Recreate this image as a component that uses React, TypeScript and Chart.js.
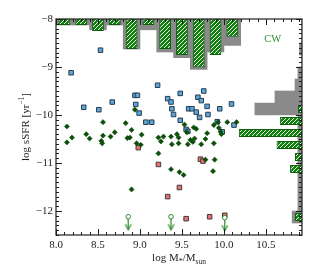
import React, { useEffect, useRef } from 'react';
import { Chart, registerables } from 'chart.js';

Chart.register(...registerables);

// ---------- axis ticks ----------
const xMajorTicks = [8.0, 8.5, 9.0, 9.5, 10.0, 10.5];
const yMajorTicks = [-12, -11, -10, -9, -8];
const xRange = [8.0, 10.93];
const yRange = [-12.5, -8.0];

// ---------- CW galaxies (dark green diamonds) ----------
const cwMass = [8.13, 8.13, 8.19, 8.36, 8.40, 8.54, 8.55, 8.56, 8.56, 8.65, 8.70, 8.83, 8.85, 8.88, 8.90, 8.94, 8.96, 9.01, 9.02, 8.90, 9.22, 9.22, 9.25, 9.28, 9.37, 9.38, 9.44, 9.46, 9.46, 9.53, 9.56, 9.57, 9.60, 9.63, 9.65, 9.64, 9.67, 9.73, 9.78, 9.80, 9.88, 9.88, 9.93, 9.94, 9.96, 9.97, 10.04, 10.15, 9.37, 9.47, 9.52, 9.78, 9.89, 9.87];
const cwSSFR = [-10.24, -10.57, -10.47, -10.40, -10.49, -10.54, -10.59, -10.15, -10.43, -10.45, -10.36, -10.17, -10.48, -10.47, -10.31, -9.89, -10.59, -10.62, -10.41, -11.55, -10.47, -10.80, -10.55, -10.45, -10.45, -10.61, -10.40, -10.47, -10.59, -10.20, -10.36, -10.61, -10.52, -10.56, -10.49, -10.26, -10.29, -10.61, -10.50, -10.38, -10.21, -10.59, -10.15, -10.27, -10.35, -10.40, -10.15, -10.15, -11.13, -11.19, -11.25, -10.93, -10.93, -11.17];

// ---------- blue squares ----------
const blueMass = [8.53, 8.18, 8.33, 8.51, 8.67, 8.94, 8.97, 8.95, 8.99, 9.07, 9.14, 9.21, 9.33, 9.37, 9.48, 9.38, 9.40, 9.69, 9.73, 9.76, 9.58, 9.62, 9.67, 9.71, 9.80, 9.81, 9.95, 10.09, 9.48, 9.55, 9.57, 9.92, 9.98, 10.12];
const blueSSFR = [-8.65, -9.12, -9.84, -9.89, -9.73, -9.59, -9.59, -9.78, -9.96, -10.15, -10.15, -9.38, -9.66, -9.73, -9.55, -9.87, -9.99, -9.63, -9.70, -9.50, -9.87, -9.87, -9.94, -10.05, -9.82, -9.99, -9.87, -9.77, -10.11, -10.30, -10.34, -10.14, -10.35, -10.21];

// ---------- red squares ----------
const redMass = [8.98, 9.22, 9.72, 9.75, 9.47, 9.33, 9.55, 9.83, 10.01];
const redSSFR = [-10.68, -11.03, -10.92, -10.96, -11.51, -11.70, -12.16, -12.12, -12.09];

// ---------- upper limits ----------
const limitMass = [8.86, 9.37, 10.01];
const limitSSFR = [-12.12, -12.12, -12.14];
const limitTip = [-12.39, -12.39, -12.41];

// ---------- top histogram (stellar mass), bins of 0.2 dex ----------
const topBinCenters = [8.1, 8.3, 8.5, 8.7, 8.9, 9.1, 9.3, 9.5, 9.7, 9.9, 10.1];
const topGray = [1, 1, 1.8, 1, 5, 1.8, 5.5, 6.45, 8.4, 5.5, 4.4];
const topGreen = [1, 1, 2, 1, 5, 1, 5, 6, 8.1, 6, 2.95];

// ---------- right histogram (sSFR), bins of 0.25 dex ----------
const rightBinCenters = [-8.125, -8.375, -8.625, -8.875, -9.125, -9.375, -9.625, -9.875, -10.125, -10.375, -10.625, -10.875, -11.125, -11.375, -11.625, -11.875, -12.125, -12.375];
const rightGray = [0, 0, 0.6, 0, 1, 1.7, 6.6, 11.5, 1, 1, 1, 1, 1, 1, 1, 1, 2.4, 0];
const rightGreen = [0, 0, 0, 0, 0, 0, 0, 1, 5.4, 15.4, 6.2, 1.7, 2.9, 0, 0, 0, 1.7, 0];

const cwLabel = 'CW';
const cwLabelPos = [10.58, -8.47];

const SERIF = "'Liberation Serif', 'Times New Roman', Times, serif";
const INK = '#1e1e1e';
const LIMIT_GREEN = '#2b8b2b';

function makeHatch(): CanvasPattern | string {
  const c = document.createElement('canvas');
  const p = 4;
  c.width = p;
  c.height = p;
  const g = c.getContext('2d');
  if (!g) return '#1f8a1f';
  g.fillStyle = '#11800f';
  g.fillRect(0, 0, p, p);
  g.strokeStyle = '#f4fff4';
  g.lineWidth = 0.95;
  g.beginPath();
  g.moveTo(0, p); g.lineTo(p, 0);
  g.moveTo(-1, 1); g.lineTo(1, -1);
  g.moveTo(p - 1, p + 1); g.lineTo(p + 1, p - 1);
  g.stroke();
  return g.createPattern(c, 'repeat') || '#1f8a1f';
}

function makeArrowHead(): HTMLCanvasElement {
  const c = document.createElement('canvas');
  c.width = 9;
  c.height = 13;
  const g = c.getContext('2d');
  if (g) {
    g.strokeStyle = LIMIT_GREEN;
    g.lineWidth = 1.2;
    g.beginPath();
    g.moveTo(1.6, 1.0);
    g.lineTo(4.5, 6.5);
    g.lineTo(7.4, 1.0);
    g.stroke();
  }
  return c;
}

type Seg = [string, number, number];
function segWidth(ctx: CanvasRenderingContext2D, segs: Seg[]) {
  let w = 0;
  for (const [t, s] of segs) {
    ctx.font = `${s}px ${SERIF}`;
    w += ctx.measureText(t).width;
  }
  return w;
}
function drawSegs(ctx: CanvasRenderingContext2D, segs: Seg[], x0: number, y0: number) {
  let x = x0;
  for (const [t, s, dy] of segs) {
    ctx.font = `${s}px ${SERIF}`;
    ctx.fillText(t, x, y0 + dy);
    x += ctx.measureText(t).width;
  }
}

const decorPlugin = {
  id: 'decor',
  afterDraw(chart: any) {
    const { ctx, chartArea: a, scales } = chart;
    const xs = scales.x;
    const ys = scales.y;
    ctx.save();
    ctx.strokeStyle = INK;
    ctx.lineWidth = 1;
    ctx.beginPath();
    for (let k = 0; ; k++) {
      const v = xRange[0] + k * 0.1;
      if (v > xRange[1] + 1e-9) break;
      const major = xMajorTicks.some((t) => Math.abs(t - v) < 1e-6);
      const len = major ? 6 : 3;
      const p = Math.round(xs.getPixelForValue(v)) + 0.5;
      ctx.moveTo(p, a.bottom); ctx.lineTo(p, a.bottom - len);
      ctx.moveTo(p, a.top); ctx.lineTo(p, a.top + len);
    }
    for (let k = 0; ; k++) {
      const v = yRange[0] + k * 0.1;
      if (v > yRange[1] + 1e-9) break;
      const major = yMajorTicks.some((t) => Math.abs(t - v) < 1e-6);
      const len = major ? 6 : 3;
      const p = Math.round(ys.getPixelForValue(v)) + 0.5;
      ctx.moveTo(a.left, p); ctx.lineTo(a.left + len, p);
      ctx.moveTo(a.right, p); ctx.lineTo(a.right - len, p);
    }
    ctx.stroke();
    ctx.lineWidth = 1.2;
    ctx.strokeRect(a.left, a.top, a.right - a.left, a.bottom - a.top);

    ctx.fillStyle = INK;
    ctx.textBaseline = 'alphabetic';
    ctx.textAlign = 'left';
    const xSegs: Seg[] = [['log M', 11, 0], ['*', 8, 2.5], ['/M', 11, 0], ['sun', 7.5, 2.8]];
    const xw = segWidth(ctx, xSegs);
    drawSegs(ctx, xSegs, (a.left + a.right) / 2 - xw / 2, a.bottom + 26);

    const ySegs: Seg[] = [['log sSFR [yr', 11, 0], ['\u22121', 7.5, -4.5], [']', 11, 0]];
    const yw = segWidth(ctx, ySegs);
    ctx.save();
    ctx.translate(28.5, (a.top + a.bottom) / 2);
    ctx.rotate(-Math.PI / 2);
    drawSegs(ctx, ySegs, -yw / 2, 0);
    ctx.restore();

    ctx.fillStyle = '#2e8b2e';
    ctx.textAlign = 'center';
    ctx.font = `10.5px ${SERIF}`;
    ctx.fillText(cwLabel, xs.getPixelForValue(cwLabelPos[0]), ys.getPixelForValue(cwLabelPos[1]));
    ctx.restore();
  },
};

export default function App() {
  const ref = useRef<HTMLCanvasElement | null>(null);

  useEffect(() => {
    const canvas = ref.current;
    if (!canvas) return;
    const hatch = makeHatch();
    const arrowHead = makeArrowHead();

    const tickFont = { family: SERIF, size: 11 };

    const datasets: any[] = [
      {
        type: 'scatter',
        data: cwMass.map((m, i) => ({ x: m, y: cwSSFR[i] })),
        pointStyle: 'rectRot',
        pointRadius: 2.6,
        backgroundColor: '#0b4f0b',
        borderColor: '#0b4f0b',
        borderWidth: 0.5,
        order: 0,
      },
      {
        type: 'scatter',
        data: limitMass.map((m, i) => ({ x: m, y: limitSSFR[i] })),
        pointStyle: 'circle',
        pointRadius: 2.3,
        backgroundColor: '#ffffff',
        borderColor: LIMIT_GREEN,
        borderWidth: 1,
        order: 0,
      },
      {
        type: 'scatter',
        data: limitMass.map((m, i) => ({ x: m, y: limitTip[i] })),
        pointStyle: arrowHead,
        pointRadius: 4,
        order: 1,
      },
      ...limitMass.map((m, i) => ({
        type: 'line',
        data: [{ x: m, y: limitSSFR[i] }, { x: m, y: limitTip[i] }],
        borderColor: LIMIT_GREEN,
        borderWidth: 1.2,
        pointRadius: 0,
        fill: false,
        order: 1,
      })),
      {
        type: 'scatter',
        data: redMass.map((m, i) => ({ x: m, y: redSSFR[i] })),
        pointStyle: 'rect',
        pointRadius: 3.2,
        backgroundColor: '#ef7272',
        borderColor: '#3a3a3a',
        borderWidth: 1,
        order: 2,
      },
      {
        type: 'scatter',
        data: blueMass.map((m, i) => ({ x: m, y: blueSSFR[i] })),
        pointStyle: 'rect',
        pointRadius: 3.2,
        backgroundColor: '#55a9e0',
        borderColor: '#2d3a4a',
        borderWidth: 1,
        order: 3,
      },
      {
        type: 'bar',
        data: topBinCenters.map((c, i) => ({ x: c, y: topGreen[i] })),
        xAxisID: 'x',
        yAxisID: 'yT',
        backgroundColor: hatch,
        borderColor: '#0d5e0d',
        borderWidth: 1,
        grouped: false,
        categoryPercentage: 1,
        barPercentage: 0.7,
        order: 5,
      },
      {
        type: 'bar',
        data: topBinCenters.map((c, i) => ({ x: c, y: topGray[i] })),
        xAxisID: 'x',
        yAxisID: 'yT',
        backgroundColor: '#8a8a8a',
        borderWidth: 0,
        grouped: false,
        categoryPercentage: 1,
        barPercentage: 1,
        order: 6,
      },
      {
        type: 'bar',
        indexAxis: 'y',
        data: rightBinCenters.map((c, i) => ({ x: rightGreen[i], y: c })),
        xAxisID: 'xR',
        yAxisID: 'y',
        backgroundColor: hatch,
        borderColor: '#0d5e0d',
        borderWidth: 1,
        grouped: false,
        categoryPercentage: 1,
        barPercentage: 0.68,
        order: 5,
      },
      {
        type: 'bar',
        indexAxis: 'y',
        data: rightBinCenters.map((c, i) => ({ x: rightGray[i], y: c })),
        xAxisID: 'xR',
        yAxisID: 'y',
        backgroundColor: '#8a8a8a',
        borderWidth: 0,
        grouped: false,
        categoryPercentage: 1,
        barPercentage: 1,
        order: 6,
      },
    ];

    const chart = new Chart(canvas, {
      type: 'scatter',
      data: { datasets },
      options: {
        responsive: false,
        animation: false,
        layout: { padding: { left: 0, right: 17, top: 19, bottom: 0 } },
        plugins: { legend: { display: false }, tooltip: { enabled: false } },
        scales: {
          x: {
            type: 'linear',
            position: 'bottom',
            min: xRange[0],
            max: xRange[1],
            offset: false,
            grid: { display: false, drawTicks: false, offset: false },
            border: { display: false },
            ticks: {
              font: tickFont,
              color: INK,
              padding: 4,
              maxRotation: 0,
              autoSkip: false,
              callback: (v: any) => Number(v).toFixed(1),
            },
            afterBuildTicks: (s: any) => {
              s.ticks = xMajorTicks.map((v) => ({ value: v }));
            },
            afterFit: (s: any) => {
              s.height = 38;
            },
          },
          y: {
            type: 'linear',
            position: 'left',
            min: yRange[0],
            max: yRange[1],
            offset: false,
            grid: { display: false, drawTicks: false, offset: false },
            border: { display: false },
            ticks: {
              font: tickFont,
              color: INK,
              padding: 3,
              autoSkip: false,
              callback: (v: any) => {
                const n = Number(v);
                return n < 0 ? '\u2212' + Math.abs(n).toString() : n.toString();
              },
            },
            afterBuildTicks: (s: any) => {
              s.ticks = yMajorTicks.map((v) => ({ value: v }));
            },
            afterFit: (s: any) => {
              s.width = 56;
            },
          },
          yT: {
            type: 'linear',
            display: false,
            min: 0,
            max: 36,
            reverse: true,
            offset: false,
            grid: { display: false, offset: false },
          },
          xR: {
            type: 'linear',
            display: false,
            min: 0,
            max: 60,
            reverse: true,
            offset: false,
            grid: { display: false, offset: false },
          },
        },
      } as any,
      plugins: [decorPlugin],
    } as any);

    return () => {
      chart.destroy();
    };
  }, []);

  return (
    <div style={{ position: 'fixed', left: 0, top: 0, width: 319, height: 273, background: '#fff' }}>
      <canvas ref={ref} width={319} height={273} style={{ display: 'block', width: 319, height: 273 }} />
    </div>
  );
}
